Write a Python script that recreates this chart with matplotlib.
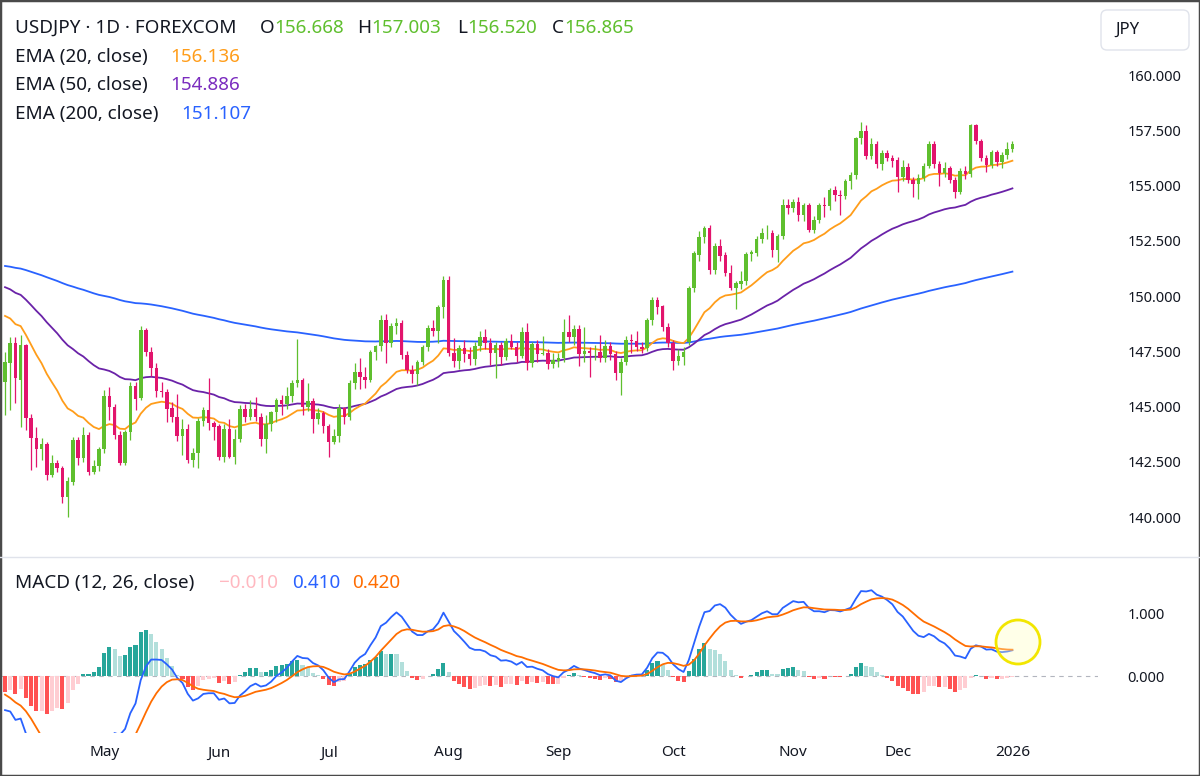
import matplotlib
matplotlib.use("Agg")
import numpy as np
import pandas as pd
import matplotlib.pyplot as plt
from matplotlib.patches import FancyBboxPatch, Ellipse
from matplotlib.transforms import IdentityTransform

W, H = 1200, 776
plt.rcParams['font.family'] = ['Noto Sans', 'DejaVu Sans']

# ---- data (USDJPY daily) ----
dates = pd.bdate_range("2025-04-04", "2026-01-02")
dates = dates[~dates.isin(pd.to_datetime(["2025-12-25", "2026-01-01"]))]

opens = [
    146.10, 146.98, 147.86, 146.20, 147.80, 144.47, 143.56, 143.06, 143.29, 141.90,
    142.43, 142.20, 140.89, 141.60, 143.48, 142.66, 143.71, 142.02, 142.32,
    # May
    143.08, 145.48, 145.00, 143.71, 142.46, 143.84, 145.93, 145.37, 148.46, 147.48,
    146.76, 145.70, 145.67, 144.93, 144.54, 143.67, 144.00, 142.58, 142.88, 144.36,
    144.84, 144.24,
    # Jun
    144.12, 142.73, 143.97, 142.73, 143.52, 144.87, 144.54, 144.87, 144.54, 143.52,
    144.20, 144.77, 145.29, 145.11, 145.48, 146.08, 146.20, 144.96, 145.25, 144.42,
    144.69,
    # Jul
    144.12, 143.41, 143.67, 144.92, 144.54, 146.05, 146.58, 146.32, 146.20, 147.48,
    147.74, 148.91, 147.89, 148.64, 148.80, 147.33, 146.65, 146.47, 147.03, 147.68,
    148.54, 148.43, 149.52,
    # Aug
    150.72, 147.41, 147.07, 147.63, 147.38, 147.14, 147.74, 148.13, 147.86, 147.41,
    147.78, 147.23, 147.98, 147.68, 147.29, 148.39, 146.95, 147.83, 147.38, 147.42,
    146.92,
    # Sep
    147.05, 147.18, 148.39, 148.13, 148.49, 147.38, 147.53, 147.41, 147.48, 147.21,
    147.74, 147.38, 146.50, 147.03, 148.01, 147.95, 147.71, 147.63, 148.91, 149.82,
    149.55, 148.58,
    # Oct
    147.86, 147.07, 147.26, 147.90, 150.35, 151.85, 152.68, 153.06, 151.18, 152.26,
    151.85, 151.06, 150.35, 150.54, 150.69, 151.89, 151.93, 152.56, 152.84, 152.87,
    152.08, 152.71, 154.12,
    # Nov
    153.97, 154.27, 153.67, 154.12, 152.99, 153.44, 154.12, 154.07, 154.80, 154.57,
    154.52, 155.20, 155.47, 157.13, 157.47, 156.35, 156.86, 155.96, 156.46, 156.26,
    # Dec
    156.15, 155.40, 155.85, 155.25, 155.05, 155.32, 155.90, 156.86, 155.96, 155.55,
    155.78, 155.25, 154.69, 155.66, 155.50, 157.74, 157.01, 156.26, 155.93, 156.53,
    156.08, 156.38,
    # Jan
    156.668,
]
highs = [
    147.45, 148.16, 148.16, 148.24, 147.85, 144.66, 144.09, 143.56, 143.40, 142.80,
    142.58, 142.30, 141.80, 143.63, 143.60, 144.09, 143.83, 142.58, 143.18,
    145.75, 145.90, 145.10, 143.90, 143.95, 146.12, 146.10, 148.65, 148.55, 147.70,
    146.95, 146.10, 145.80, 145.20, 145.57, 144.43, 144.20, 143.10, 144.50, 145.00,
    146.28, 144.35,
    144.20, 144.20, 144.42, 144.00, 145.07, 145.10, 145.29, 145.45, 144.70, 144.60,
    144.80, 145.40, 145.50, 145.90, 146.20, 148.04, 146.30, 146.06, 145.40, 144.95,
    144.80,
    144.20, 144.00, 145.10, 145.00, 146.20, 146.98, 147.18, 146.80, 147.55, 147.80,
    149.14, 149.20, 148.80, 149.00, 148.90, 147.50, 146.90, 147.10, 147.80, 148.70,
    148.90, 149.60, 150.90,
    150.91, 148.09, 147.80, 148.00, 147.70, 147.90, 148.40, 148.50, 148.10, 147.90,
    147.90, 148.10, 148.30, 147.90, 148.60, 148.79, 147.90, 148.00, 148.19, 147.60,
    147.40,
    147.40, 148.95, 149.14, 148.70, 148.70, 148.61, 147.70, 147.80, 148.24, 148.00,
    147.90, 147.50, 147.20, 148.20, 148.30, 148.40, 147.90, 149.00, 149.94, 149.96,
    149.60, 148.80,
    148.00, 147.60, 147.70, 150.45, 152.05, 152.95, 153.17, 153.20, 152.40, 152.60,
    152.00, 151.40, 150.70, 151.15, 152.00, 152.10, 152.70, 153.10, 153.20, 153.00,
    152.80, 154.40, 154.38,
    154.40, 154.46, 154.20, 154.20, 153.60, 154.20, 154.46, 154.90, 155.00, 154.80,
    155.30, 155.60, 157.20, 157.89, 157.75, 157.15, 157.00, 156.60, 156.60, 156.40,
    156.30, 156.15, 156.00, 155.40, 155.50, 156.00, 157.00, 157.00, 156.10, 156.08,
    155.90, 155.40, 155.80, 155.90, 157.80, 157.80, 157.10, 156.40, 156.60, 156.60,
    156.50, 156.95,
    157.003,
]
lows = [
    144.60, 144.84, 145.16, 144.09, 143.95, 142.13, 142.28, 142.58, 141.67, 141.80,
    142.05, 140.62, 140.01, 141.45, 142.35, 142.50, 141.90, 141.95, 142.10,
    142.90, 144.40, 143.55, 142.35, 142.35, 143.50, 144.84, 145.30, 147.30, 146.40,
    145.45, 145.45, 144.30, 144.30, 143.45, 142.80, 142.46, 142.28, 142.20, 144.10,
    143.95, 143.48,
    142.60, 142.51, 142.65, 142.40, 143.40, 144.30, 144.40, 144.35, 143.21, 142.91,
    143.90, 144.30, 144.60, 144.90, 145.20, 145.90, 144.60, 144.80, 143.82, 144.20,
    143.80,
    142.73, 143.30, 143.40, 144.20, 144.40, 145.80, 145.80, 145.82, 146.10, 147.10,
    147.50, 146.95, 147.70, 148.30, 147.13, 146.50, 146.05, 145.97, 146.90, 147.50,
    148.20, 147.89, 149.00,
    147.30, 146.80, 146.68, 147.00, 146.90, 146.90, 147.50, 147.60, 146.90, 146.28,
    146.90, 147.10, 147.60, 147.00, 147.20, 146.65, 146.80, 147.00, 147.33, 146.70,
    146.75,
    146.80, 147.00, 147.90, 147.80, 146.83, 147.00, 146.35, 147.10, 147.00, 147.00,
    147.10, 146.20, 145.52, 146.90, 147.40, 147.50, 147.40, 147.50, 148.70, 149.20,
    148.40, 147.70,
    146.65, 146.90, 146.90, 147.80, 150.20, 151.60, 152.40, 151.00, 151.00, 151.60,
    150.90, 150.25, 149.40, 150.30, 150.50, 151.60, 151.80, 152.40, 152.60, 151.78,
    151.55, 152.60, 153.70,
    153.80, 153.40, 153.40, 152.90, 152.84, 153.30, 153.59, 153.90, 154.30, 153.66,
    154.40, 154.85, 155.30, 156.90, 156.20, 156.20, 155.80, 155.70, 156.10, 155.85,
    154.72, 155.20, 155.10, 154.50, 154.40, 155.20, 155.80, 155.80, 155.00, 155.40,
    155.10, 154.45, 154.60, 155.30, 155.40, 156.90, 156.10, 155.60, 155.80, 155.90,
    155.80, 156.20,
    156.520,
]
closes = [
    147.03, 147.86, 146.30, 147.80, 144.47, 143.56, 143.06, 143.29, 141.90, 142.43,
    142.20, 140.89, 141.63, 143.48, 142.66, 143.71, 142.02, 142.32, 143.08,
    145.48, 144.99, 143.71, 142.46, 143.83, 145.93, 145.34, 148.46, 147.48, 146.76,
    145.70, 145.65, 144.87, 144.54, 143.67, 144.00, 142.58, 142.88, 144.36, 144.84,
    144.24, 144.09,
    142.73, 143.97, 142.73, 143.52, 144.87, 144.54, 144.87, 144.54, 143.52, 144.20,
    144.77, 145.29, 145.11, 145.48, 146.08, 146.20, 144.96, 145.25, 144.42, 144.69,
    144.12,
    143.41, 143.67, 144.92, 144.54, 146.05, 146.58, 146.32, 146.20, 147.48, 147.74,
    148.91, 147.89, 148.64, 148.80, 147.33, 146.65, 146.47, 147.03, 147.68, 148.54,
    148.43, 149.52, 150.72,
    147.41, 147.07, 147.63, 147.38, 147.14, 147.74, 148.13, 147.86, 147.41, 147.78,
    147.23, 147.98, 147.68, 147.29, 148.39, 146.95, 147.83, 147.38, 147.42, 146.92,
    147.10,
    147.18, 148.39, 148.13, 148.49, 147.38, 147.53, 147.41, 147.44, 147.21, 147.74,
    147.38, 146.50, 147.03, 148.01, 147.95, 147.71, 147.59, 148.91, 149.82, 149.52,
    148.58, 147.86,
    147.07, 147.29, 147.48, 150.35, 151.93, 152.68, 153.06, 151.18, 152.26, 151.81,
    151.06, 150.35, 150.57, 150.69, 151.89, 152.00, 152.56, 152.84, 152.87, 152.08,
    152.71, 154.12, 153.97,
    154.27, 153.67, 154.12, 152.99, 153.44, 154.12, 154.07, 154.80, 154.57, 154.52,
    155.20, 155.47, 157.13, 157.47, 156.35, 156.86, 155.96, 156.46, 156.26, 156.11,
    155.40, 155.85, 155.25, 155.05, 155.32, 155.90, 156.86, 155.96, 155.55, 155.78,
    155.25, 154.69, 155.66, 155.50, 157.74, 157.01, 156.26, 155.93, 156.53, 156.08,
    156.38, 156.65,
    156.865,
]

# indicator starting values on the first visible bar
ema20_start, ema50_start, ema200_start = 149.1, 150.4, 151.36
ema12_start, ema26_start, signal_start = 148.65, 149.2, -0.30

price_ticks = [140.0, 142.5, 145.0, 147.5, 150.0, 152.5, 155.0, 157.5, 160.0]
macd_ticks = [0.0, 1.0]


def ema(values, n, start):
    k = 2.0 / (n + 1)
    out = [start]
    for v in values[1:]:
        out.append(out[-1] + k * (v - out[-1]))
    return np.array(out)


o = np.array(opens); h = np.array(highs); l = np.array(lows); c = np.array(closes)
x = np.arange(len(c))

ema20 = ema(c, 20, ema20_start)
ema50 = ema(c, 50, ema50_start)
ema200 = ema(c, 200, ema200_start)
macd = ema(c, 12, ema12_start) - ema(c, 26, ema26_start)
signal = ema(macd, 9, signal_start)
hist = macd - signal

UP, DOWN = '#5fbf2e', '#e2146c'
TXT = '#131722'

fig = plt.figure(figsize=(W / 100, H / 100), dpi=100)
x0, x1 = 1 / W, 1098 / W
ax = fig.add_axes([x0, 1 - 557 / H, x1 - x0, 556 / H])
ax2 = fig.add_axes([x0, 1 - 733 / H, x1 - x0, 175 / H], sharex=ax)

# candles
col = np.where(c >= o, UP, DOWN)
ax.vlines(x, l, h, colors=col, linewidth=0.9, zorder=3)
body = np.maximum(np.abs(c - o), 0.03)
ax.bar(x, body, bottom=np.minimum(o, c), width=0.68, color=col, zorder=4)

ax.plot(x, ema200, color='#2962ff', lw=1.3, zorder=2)
ax.plot(x, ema50, color='#6a22a8', lw=1.3, zorder=2)
ax.plot(x, ema20, color='#ff9d1a', lw=1.3, zorder=2)

ax.set_xlim(-0.77, 209.4)
ax.set_ylim(138.19, 163.35)
ax.set_yticks(price_ticks)
ax.set_yticklabels([f"{t:.3f}" for t in price_ticks])

# MACD panel
hcol = []
for i, v in enumerate(hist):
    prev = hist[i - 1] if i > 0 else v
    if v >= 0:
        hcol.append('#26a69a' if v >= prev else '#b2dfdb')
    else:
        hcol.append('#ff5252' if v <= prev else '#ffcdd2')
ax2.bar(x, hist, width=0.78, color=hcol, zorder=2)
ax2.axhline(0, color='#b2b5be', lw=0.8, ls=(0, (4, 4)), zorder=1)
ax2.plot(x, macd, color='#2962ff', lw=1.3, zorder=3)
ax2.plot(x, signal, color='#ff6d00', lw=1.3, zorder=3)
ax2.set_ylim(-0.919, 1.903)
ax2.set_yticks(macd_ticks)
ax2.set_yticklabels([f"{t:.3f}" for t in macd_ticks])

for a in (ax, ax2):
    for s in a.spines.values():
        s.set_visible(False)
    a.yaxis.tick_right()
    a.tick_params(axis='y', length=0, pad=21, labelsize=10.5, labelcolor=TXT)
ax.tick_params(axis='x', length=0, labelbottom=False)

# month labels
months = pd.Series(dates.to_period('M'))
first = months.ne(months.shift()).to_numpy()
first[0] = False
pos = x[first]
labels = [d.strftime('%b') if d.month != 1 else str(d.year) for d in dates[first]]
ax2.set_xticks(pos)
ax2.set_xticklabels(labels)
ax2.tick_params(axis='x', length=0, pad=9, labelsize=11, labelcolor=TXT)
for t in ax2.get_xticklabels():
    if t.get_text() == '2026':
        t.set_fontweight('bold')

# header legends
renderer = fig.canvas.get_renderer()


def write(xpx, ypx, parts, size=13.6):
    for txt, color in parts:
        t = fig.text(xpx / W, 1 - ypx / H, txt, color=color, fontsize=size,
                     ha='left', va='center')
        xpx += t.get_window_extent(renderer).width


write(15, 28, [("USDJPY · 1D · FOREXCOM", TXT)])
write(260, 28, [("O", TXT), ("156.668", UP)])
write(357, 28, [("H", TXT), ("157.003", UP)])
write(457, 28, [("L", TXT), ("156.520", UP)])
write(552, 28, [("C", TXT), ("156.865", UP)])
write(15, 57, [("EMA (20, close)", TXT)])
write(170, 57, [("156.136", '#ff9d1a')])
write(15, 85, [("EMA (50, close)", TXT)])
write(170, 85, [("154.886", '#7b2cbf')])
write(15, 114, [("EMA (200, close)", TXT)])
write(181, 114, [("151.107", '#2962ff')])
write(15, 583, [("MACD (12, 26, close)", TXT)])
write(219, 583, [("\u22120.010", '#ffb8c0')])
write(292, 583, [("0.410", '#2962ff')])
write(352, 583, [("0.420", '#ff6d00')])

# panel separator
fig.add_artist(plt.Line2D([0, 1], [1 - 557 / H] * 2, color='#e0e3eb', lw=1,
                          transform=fig.transFigure))

# currency box
fig.add_artist(FancyBboxPatch((1101, H - 50), 88, 40,
                              boxstyle="round,pad=0,rounding_size=6",
                              fc='white', ec='#e0e3eb', lw=1,
                              transform=IdentityTransform()))
fig.text(1115 / W, 1 - 30 / H, "JPY", color=TXT, fontsize=12, ha='left', va='center')

# highlight circle
fig.add_artist(Ellipse((1018, H - 642), 44, 44, fc=(1, 1, 0.75, 0.35),
                       ec='#f2e600', lw=2, transform=IdentityTransform(), zorder=10))

# outer frame
fig.add_artist(plt.Rectangle((0, 0), 1, 1, fill=False, ec='#4a4a4a', lw=2.5,
                             transform=fig.transFigure))

fig.savefig("out.png", dpi=100)
